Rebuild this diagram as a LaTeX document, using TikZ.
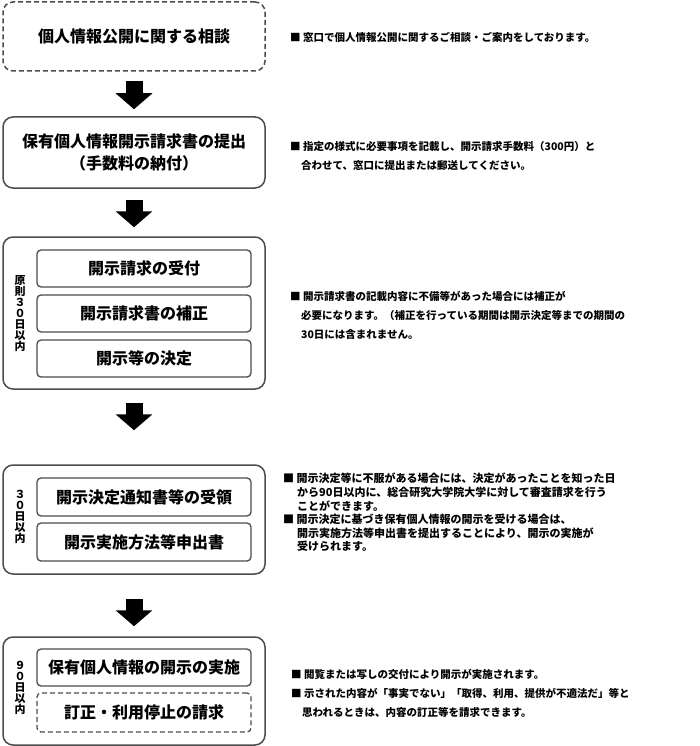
\documentclass[tikz,border=0pt]{standalone}
\usepackage{fontspec}
\setmainfont{Noto Sans CJK JP}
\usetikzlibrary{arrows.meta}
\tikzset{
  outerbox/.style={draw=black!70, line width=1.5pt, rounded corners=10pt, minimum width=262pt},
  innerbox/.style={draw=black!70, line width=1.3pt, rounded corners=4pt, minimum width=214pt,
    font=\fontsize{16}{18}\selectfont\bfseries},
  dashbox/.style={innerbox, dash pattern=on 5pt off 3pt},
  daylabel/.style={font=\fontsize{11}{11}\selectfont\bfseries, align=center, inner sep=0pt},
  note/.style={anchor=north west, inner sep=0pt, align=left, font=\fontsize{10.5}{19}\selectfont\bfseries},
  flowarrow/.style={line width=17pt, -{Triangle[width=36pt,length=16pt]}},
}
\begin{document}
\begin{tikzpicture}[x=1pt, y=-1pt]
\useasboundingbox (0,0) rectangle (700,746);

% flow boxes
\node[outerbox, dash pattern=on 5pt off 3pt, minimum height=69pt,
  font=\fontsize{16}{18}\selectfont\bfseries] (consult) at (134,36.5) {個人情報公開に関する相談};
\node[outerbox, minimum height=71pt, align=center,
  font=\fontsize{16}{22}\selectfont\bfseries] (submit) at (134,152.5) {保有個人情報開示請求書の提出\\（手数料の納付）};

\node[outerbox, minimum height=152pt] (review) at (134,313) {};
\node[innerbox, minimum height=37pt] (accept)  at (144,268.5) {開示請求の受付};
\node[innerbox, minimum height=37pt] (correct) at (144,313.5) {開示請求書の補正};
\node[innerbox, minimum height=37pt] (decide)  at (144,358.5) {開示等の決定};
\node[daylabel] (days30a) at (20,314) {原\\則\\３\\０\\日\\以\\内};

\node[outerbox, minimum height=109pt] (notify) at (134,519.5) {};
\node[innerbox, minimum height=38pt] (receive) at (144,497) {開示決定通知書等の受領};
\node[innerbox, minimum height=38pt] (apply)   at (144,542) {開示実施方法等申出書};
\node[daylabel] (days30b) at (20,517) {３\\０\\日\\以\\内};

\node[outerbox, minimum height=108pt] (disclose) at (134,691) {};
\node[innerbox, minimum height=37pt] (perform) at (144,667.5) {保有個人情報の開示の実施};
\node[dashbox, minimum height=39pt]  (amend)   at (144,712.5) {訂正・利用停止の請求};
\node[daylabel] (days90) at (20,688) {９\\０\\日\\以\\内};

% arrows
\draw[flowarrow, shorten <=9pt,  shorten >=7pt]  (consult) -- (submit);
\draw[flowarrow, shorten <=11pt, shorten >=9pt]  (submit) -- (review);
\draw[flowarrow, shorten <=13pt, shorten >=34pt] (review) -- (notify);
\draw[flowarrow, shorten <=24pt, shorten >=10pt] (notify) -- (disclose);

% notes
\node[note, anchor=west] (noteconsult) at (290,37) {■ 窓口で個人情報公開に関するご相談・ご案内をしております。};
\node[note] (notesubmit) at (290,141) {■ 指定の様式に必要事項を記載し、開示請求手数料（300円）と\\
  \hspace*{11pt}合わせて、窓口に提出または郵送してください。};
\node[note] (notereview) at (290,291) {■ 開示請求書の記載内容に不備等があった場合には補正が\\
  \hspace*{11pt}必要になります。（補正を行っている期間は開示決定等までの期間の\\
  \hspace*{11pt}30日には含まれません。};
\node[note, font=\fontsize{11}{13.6}\selectfont\bfseries] (notenotify) at (283,473) {■ 開示決定等に不服がある場合には、決定があったことを知った日\\
  \hspace*{14pt}から90日以内に、総合研究大学院大学に対して審査請求を行う\\
  \hspace*{14pt}ことができます。\\
  ■ 開示決定に基づき保有個人情報の開示を受ける場合は、\\
  \hspace*{14pt}開示実施方法等申出書を提出することにより、開示の実施が\\
  \hspace*{14pt}受けられます。};
\node[note] (notedisclose) at (291,669) {■ 閲覧または写しの交付により開示が実施されます。\\
  ■ 示された内容が「事実でない」「取得、利用、提供が不適法だ」等と\\
  \hspace*{11pt}思われるときは、内容の訂正等を請求できます。};
\end{tikzpicture}
\end{document}
